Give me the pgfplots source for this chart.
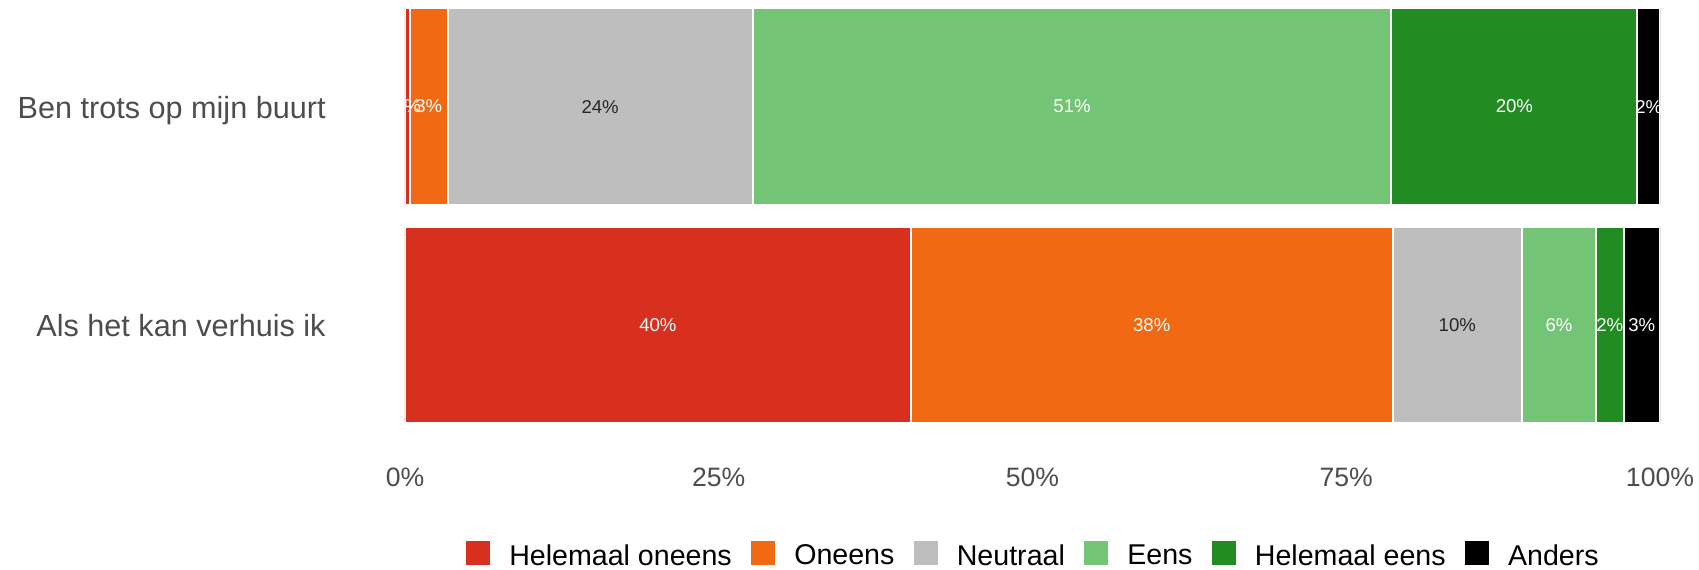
\documentclass[border=0pt]{standalone}
\usepackage{pgfplots}
\pgfplotsset{compat=1.18}
\usepackage{fontspec}
\setmainfont{Liberation Sans}
\definecolor{c1}{HTML}{D7301F}
\definecolor{c2}{HTML}{F16913}
\definecolor{c3}{HTML}{BEBEBE}
\definecolor{c4}{HTML}{74C476}
\definecolor{c5}{HTML}{228B22}
\definecolor{c6}{HTML}{000000}
\definecolor{axtext}{HTML}{4D4D4D}
\pgfplotsset{
  sqlegend/.style={legend image code/.code={\fill[##1,draw=none] (0pt,-4.5pt) rectangle (12pt,7.5pt);}},
  seg/.style={fill=#1, draw=white, line width=1pt, sqlegend},
}
\begin{document}
\begin{tikzpicture}
\begin{axis}[
  name=main,
  xbar stacked,
  scale only axis,
  width=627.5pt, height=227.8pt,
  xmin=0, xmax=100, ymin=-0.6, ymax=1.4885,
  bar width=0.9,
  axis line style={draw=none},
  major tick length=0pt,
  xtick={0,25,50,75,100},
  xticklabels={0\%,25\%,50\%,75\%,100\%},
  ytick={0,1},
  yticklabels={Als het kan verhuis ik,Ben trots op mijn buurt},
  xticklabel style={font=\fontsize{13.3pt}{14pt}\selectfont, text=axtext, inner sep=0pt, anchor=north, yshift=-6.2pt},
  yticklabel style={font=\fontsize{15.3pt}{16pt}\selectfont, text=axtext, inner sep=0pt, anchor=base east, xshift=-39.5pt, yshift=-5.9pt},
  /pgf/number format/assume math mode=true,
  legend columns=6,
  legend style={draw=none, fill=none, at={(0.5,0)}, anchor=center, yshift=-49.5pt,
    font=\fontsize{14.3pt}{16pt}\selectfont, inner sep=0pt, column sep=0pt,
    nodes={inner sep=0pt},
    /tikz/every odd column/.append style={column sep=9.5pt},
    /tikz/every even column/.append style={column sep=9.7pt}},
]
\addplot[seg=c1] coordinates {(0.4,1) (40.3,0)};
\addplot[seg=c2] coordinates {(3.0,1) (38.4,0)};
\addplot[seg=c3] coordinates {(24.3,1) (10.3,0)};
\addplot[seg=c4] coordinates {(50.9,1) (5.9,0)};
\addplot[seg=c5] coordinates {(19.6,1) (2.2,0)};
\addplot[seg=c6] coordinates {(1.8,1) (2.9,0)};
\legend{Helemaal oneens, Oneens, Neutraal, Eens, Helemaal eens, Anders}
\end{axis}
\begin{axis}[
  scale only axis,
  width=627.5pt, height=227.8pt,
  xmin=0, xmax=100, ymin=-0.6, ymax=1.4885,
  hide axis,
  nodes near coords,
  point meta=explicit symbolic,
  every node near coord/.append style={anchor=center, inner sep=0pt, font=\fontsize{9.3pt}{10pt}\selectfont},
]
\addplot[draw=none, mark=none, every node near coord/.append style={text=white}] coordinates {
  (0.2,1) [0\%] (1.9,1) [3\%] (53.15,1) [51\%] (88.4,1) [20\%] (99.1,1) [2\%]
  (20.15,0) [40\%] (59.5,0) [38\%] (91.95,0) [6\%] (96.0,0) [2\%] (98.55,0) [3\%]};
\addplot[draw=none, mark=none, every node near coord/.append style={text=black!85}] coordinates {
  (15.55,1) [24\%] (83.85,0) [10\%]};
\end{axis}
\pgfresetboundingbox
\path[use as bounding box] ([xshift=-202.5pt]main.north west) rectangle ([xshift=19.5pt,yshift=-56.7pt]main.south east);
\end{tikzpicture}
\end{document}
